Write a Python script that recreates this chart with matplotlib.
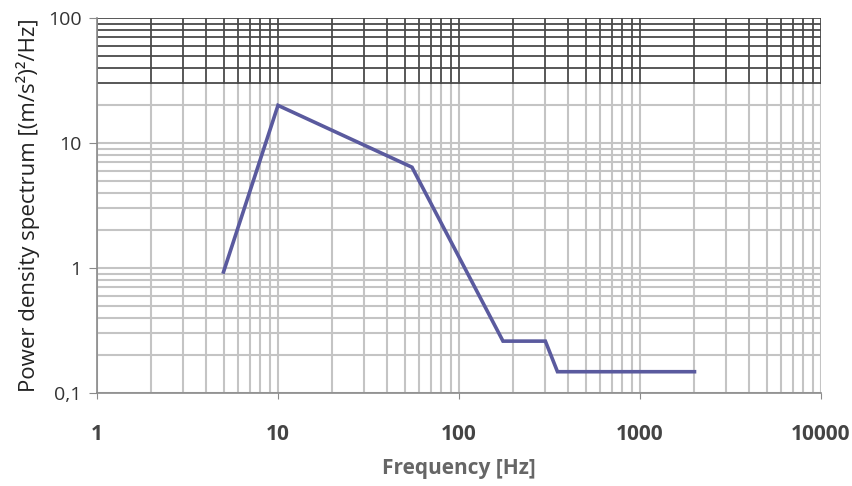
import matplotlib
matplotlib.use("Agg")
import matplotlib.pyplot as plt
import numpy as np

freq = [5, 10, 55, 175, 300, 350, 2000]
psd = [0.93, 20, 6.4, 0.26, 0.26, 0.148, 0.148]
x_ticks = [1, 10, 100, 1000, 10000]
x_labels = ["1", "10", "100", "1000", "10000"]
y_ticks = [0.1, 1, 10, 100]
y_labels = ["0,1", "1", "10", "100"]

plt.rcParams['font.family'] = ['Open Sans', 'DejaVu Sans']

fig = plt.figure(figsize=(8.52, 4.86), dpi=100)
ax = fig.add_axes([97/852, 1-393/486, (821-97)/852, (393-18)/486])
ax.set_xscale('log')
ax.set_yscale('log')
ax.set_xlim(1, 10000)
ax.set_ylim(0.1, 100)

grid_c = '#c4c4c4'
dark_c = '#4a4a4a'
xs = [m * 10**d for d in range(0, 4) for m in range(1, 10)] + [10000]
ys = [m * 10**d for d in range(-1, 2) for m in range(1, 10)] + [100]
for xv in xs:
    ax.plot([xv, xv], [0.1, 30], color=grid_c, lw=1.5, zorder=1)
    ax.plot([xv, xv], [30, 100], color=dark_c, lw=1.3, zorder=1)
for yv in ys:
    c = dark_c if yv >= 30 else grid_c
    ax.plot([1, 10000], [yv, yv], color=c, lw=1.5 if yv < 30 else 1.3, zorder=1)

ax.plot(freq, psd, color='#5a5a9e', lw=2.6, zorder=3, solid_joinstyle='miter')

for s in ['top', 'right']:
    ax.spines[s].set_visible(False)
for s in ['left', 'bottom']:
    ax.spines[s].set_color('#8a8a8a')
    ax.spines[s].set_linewidth(1.2)

ax.set_xticks(x_ticks)
ax.set_xticklabels(x_labels)
ax.set_yticks(y_ticks)
ax.set_yticklabels(y_labels)
ax.xaxis.set_minor_locator(matplotlib.ticker.NullLocator())
ax.yaxis.set_minor_locator(matplotlib.ticker.NullLocator())
ax.tick_params(axis='x', length=4, color='#8a8a8a', pad=18, labelsize=15, labelcolor='#444444')
ax.tick_params(axis='y', length=6, color='#8a8a8a', pad=5, labelsize=14, labelcolor='#333333')
for lab in ax.get_xticklabels():
    lab.set_fontweight('bold')

ax.set_xlabel("Frequency [Hz]", fontsize=15, fontweight='bold', color='#666666', labelpad=10)
ax.set_ylabel("Power density spectrum [(m/s²)²/Hz]", fontsize=16, color='#222222', labelpad=6)

fig.savefig("out.png", dpi=100)
